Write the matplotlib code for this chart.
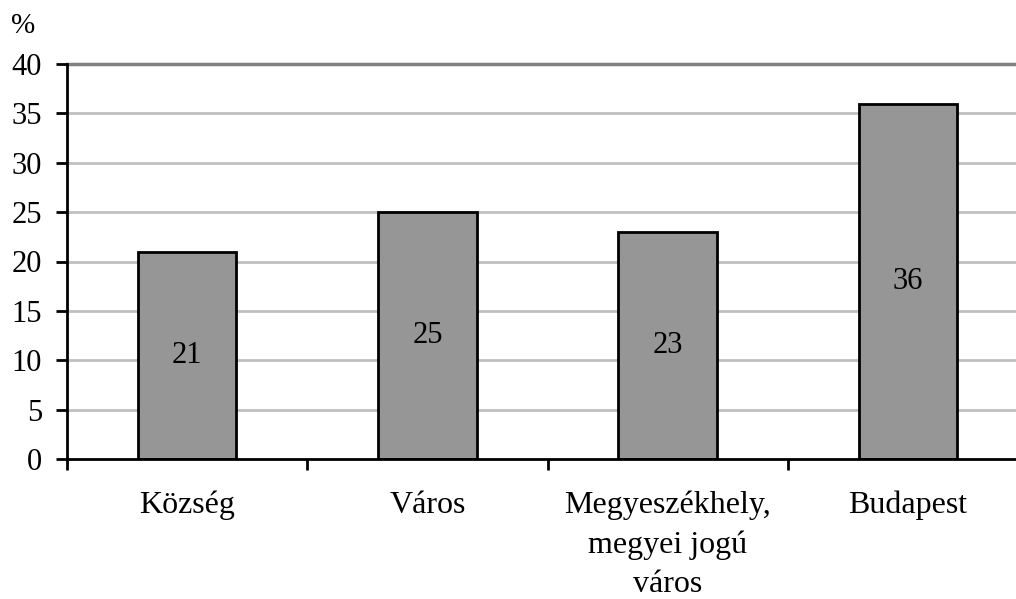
import matplotlib
matplotlib.use("Agg")
import matplotlib.pyplot as plt

categories = ["Község", "Város", "Megyeszékhely,\nmegyei jogú\nváros", "Budapest"]
values = [21, 25, 23, 36]
yticks = [0, 5, 10, 15, 20, 25, 30, 35, 40]

plt.rcParams['font.family'] = ['Liberation Serif', 'DejaVu Serif']

fig = plt.figure(figsize=(10.16, 5.99), dpi=100)
ax = fig.add_axes([67/1016, 140/599, 961/1016, 395/599])

x = list(range(len(categories)))
bars = ax.bar(x, values, width=0.41, color='#969696', edgecolor='black', linewidth=2, zorder=3)
for xi, v in zip(x, values):
    ax.text(xi, v/2, str(v), ha='center', va='center', fontsize=22, zorder=4)

ax.set_xlim(-0.5, len(categories)-0.5)
ax.set_ylim(0, 40)
ax.set_yticks(yticks)
ax.set_yticklabels([str(t) for t in yticks], fontsize=22)
for t in yticks[1:-1]:
    ax.axhline(t, color='#c0c0c0', linewidth=2, zorder=1)
ax.axhline(40, color='#808080', linewidth=2.5, zorder=1, clip_on=False)

ax.set_xticks([i + 0.5 for i in range(-1, len(categories))])
ax.set_xticklabels([])
ax.set_xticks(x, minor=True)
ax.set_xticklabels(categories, minor=True, fontsize=23, linespacing=1.45, va='top')
ax.tick_params(axis='x', which='minor', length=0, pad=23)
ax.tick_params(axis='x', which='major', length=8, width=2, direction='out')
ax.tick_params(axis='y', length=8, width=2, direction='out', pad=10)

for s in ['top', 'right']:
    ax.spines[s].set_visible(False)
ax.spines['left'].set_linewidth(2)
ax.spines['bottom'].set_linewidth(2)
ax.spines['bottom'].set_zorder(5)

fig.text(11/1016, 1 - 26/599, "%", fontsize=21, va='center', ha='left')

fig.savefig("out.png", dpi=100)
